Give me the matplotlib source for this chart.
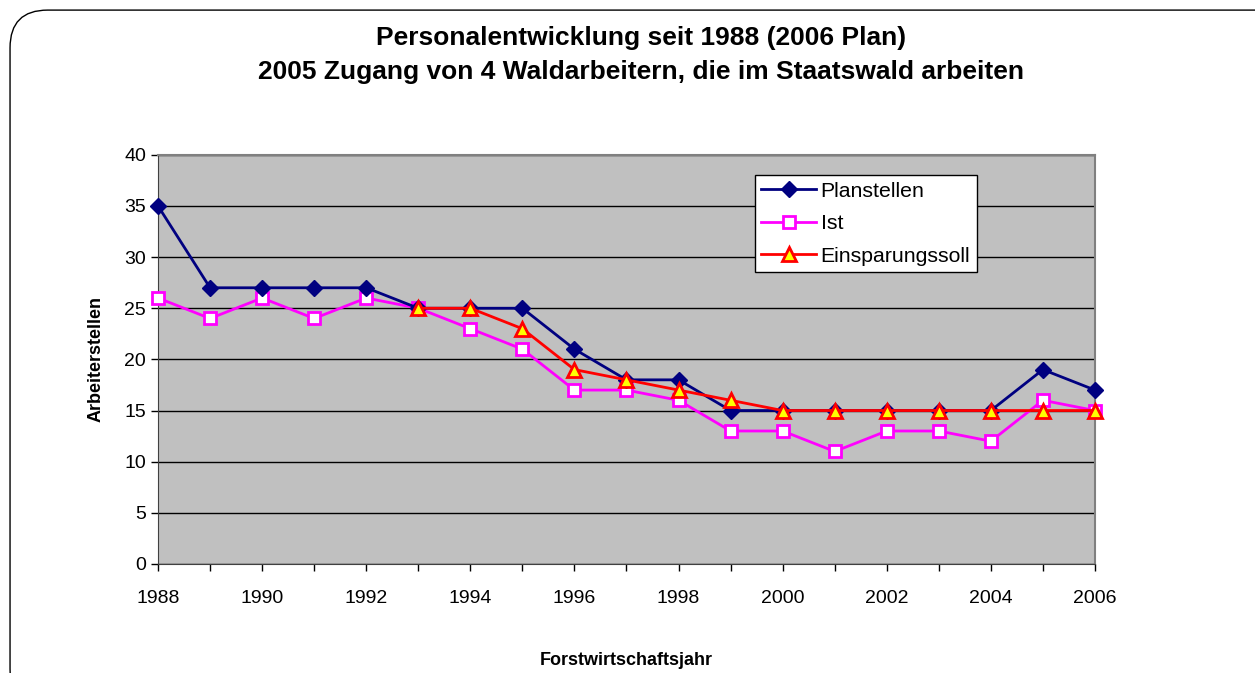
import matplotlib.pyplot as plt
from matplotlib.patches import FancyBboxPatch

plt.rcParams['font.family'] = ['Liberation Sans', 'DejaVu Sans']

years = list(range(1988, 2007))
planstellen = [35, 27, 27, 27, 27, 25, 25, 25, 21, 18, 18, 15, 15, 15, 15, 15, 15, 19, 17]
ist = [26, 24, 26, 24, 26, 25, 23, 21, 17, 17, 16, 13, 13, 11, 13, 13, 12, 16, 15]
soll_years = list(range(1993, 2007))
soll = [25, 25, 23, 19, 18, 17, 16, 15, 15, 15, 15, 15, 15, 15]

fig = plt.figure(figsize=(12.55, 6.73), dpi=100)

# rounded frame around the chart
frame = FancyBboxPatch((0.008, -0.05), 1.2, 1.035, boxstyle='round,pad=0,rounding_size=0.03',
                       transform=fig.transFigure, facecolor='none', edgecolor='black',
                       linewidth=1.0, mutation_aspect=12.55 / 6.73, zorder=-1)
fig.patches.append(frame)

ax = fig.add_axes([0.1259, 0.162, 0.7466, 0.608])
ax.set_facecolor('#c0c0c0')

ax.plot(years, planstellen, color='#000080', lw=2, marker='D', ms=8,
        mfc='#000080', mec='#000080', label='Planstellen', zorder=4, clip_on=False)
ax.plot(years, ist, color='#ff00ff', lw=2, marker='s', ms=9,
        mfc='white', mec='#ff00ff', mew=2, label='Ist', zorder=3, clip_on=False)
ax.plot(soll_years, soll, color='#ff0000', lw=2, marker='^', ms=10,
        mfc='#ffff00', mec='#ff0000', mew=2, label='Einsparungssoll', zorder=5, clip_on=False)

ax.set_xlim(1988, 2006)
ax.set_ylim(0, 40)
ax.set_xticks(years, minor=True)
ax.set_xticks(range(1988, 2007, 2))
ax.set_yticks(range(0, 41, 5))
ax.tick_params(axis='both', which='both', direction='out', length=5, labelsize=14, width=1)
ax.tick_params(axis='x', pad=14)
ax.grid(axis='y', color='black', lw=1)
ax.set_axisbelow(True)
for side in ['top', 'right']:
    ax.spines[side].set_color('#808080')
    ax.spines[side].set_linewidth(1.5)
for side in ['left', 'bottom']:
    ax.spines[side].set_color('#404040')

ax.set_ylabel('Arbeiterstellen', fontsize=13, fontweight='bold', labelpad=14)
ax.set_xlabel('Forstwirtschaftsjahr', fontsize=13, fontweight='bold', labelpad=32)

leg = ax.legend(loc='upper left', bbox_to_anchor=(0.637, 0.95), fontsize=15.3, frameon=True,
                fancybox=False, edgecolor='black', framealpha=1, handlelength=2.6,
                borderpad=0.3, labelspacing=0.64, handletextpad=0.2, borderaxespad=0)
leg.get_frame().set_linewidth(1)

fig.text(0.511, 0.962, 'Personalentwicklung seit 1988 (2006 Plan)\n'
         '2005 Zugang von 4 Waldarbeitern, die im Staatswald arbeiten',
         ha='center', va='top', fontsize=19, fontweight='bold', linespacing=1.55)

fig.savefig('out.png', dpi=100)
